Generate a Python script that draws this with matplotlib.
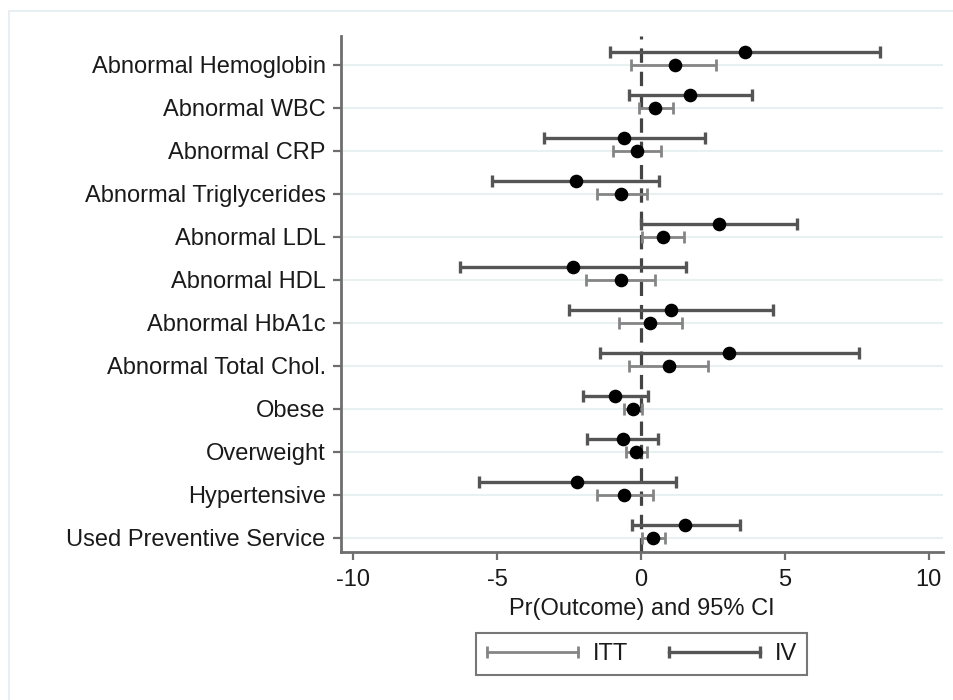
import matplotlib
matplotlib.use('Agg')
from matplotlib import pyplot as plt
from matplotlib.patches import Rectangle
from matplotlib.lines import Line2D
from matplotlib.legend_handler import HandlerLine2D

plt.rcParams['font.family'] = ['Liberation Sans', 'DejaVu Sans']

outcomes = ['Abnormal Hemoglobin', 'Abnormal WBC', 'Abnormal CRP',
            'Abnormal Triglycerides', 'Abnormal LDL', 'Abnormal HDL',
            'Abnormal HbA1c', 'Abnormal Total Chol.', 'Obese', 'Overweight',
            'Hypertensive', 'Used Preventive Service']

# ITT estimates and 95% CI
itt_est = [1.18, 0.49, -0.13, -0.70, 0.77, -0.70, 0.31, 0.97, -0.27, -0.18, -0.59, 0.43]
itt_lo = [-0.36, -0.06, -0.99, -1.54, 0.05, -1.91, -0.75, -0.41, -0.59, -0.52, -1.54, 0.02]
itt_hi = [2.61, 1.10, 0.70, 0.20, 1.48, 0.49, 1.44, 2.32, 0.02, 0.20, 0.43, 0.83]

# IV estimates and 95% CI
iv_est = [3.62, 1.70, -0.58, -2.26, 2.72, -2.38, 1.03, 3.06, -0.89, -0.64, -2.21, 1.54]
iv_lo = [-1.08, -0.41, -3.37, -5.17, -0.01, -6.30, -2.49, -1.43, -2.03, -1.87, -5.62, -0.30]
iv_hi = [8.31, 3.85, 2.23, 0.64, 5.41, 1.55, 4.58, 7.59, 0.25, 0.60, 1.22, 3.44]

xticks = [-10, -5, 0, 5, 10]

ITT_COLOR = '#858585'
IV_COLOR = '#555555'

fig = plt.figure(figsize=(9.54, 7.0), dpi=100)
fig.patches.append(Rectangle((9 / 954, -0.01), 1.0, 1 - 11 / 700 + 0.01,
                             transform=fig.transFigure, fill=False,
                             edgecolor='#e3ecf0', linewidth=1.2))
ax = fig.add_axes([341 / 954, 1 - 552 / 700, (943 - 341) / 954, (552 - 36) / 700])

y_itt = list(range(len(outcomes)))
y_iv = [y - 0.30 for y in y_itt]

for y in y_itt:
    ax.axhline(y, color='#e8f0f2', linewidth=1.5, zorder=0)
ax.axvline(0, color='#444444', linewidth=2.3, linestyle=(0, (4.5, 2.8)), zorder=1)

itt_err = [[e - l for e, l in zip(itt_est, itt_lo)], [h - e for e, h in zip(itt_est, itt_hi)]]
iv_err = [[e - l for e, l in zip(iv_est, iv_lo)], [h - e for e, h in zip(iv_est, iv_hi)]]

ax.errorbar(itt_est, y_itt, xerr=itt_err, fmt='none', ecolor=ITT_COLOR,
            elinewidth=2.0, capsize=4.3, capthick=2.0, zorder=2)
ax.errorbar(iv_est, y_iv, xerr=iv_err, fmt='none', ecolor=IV_COLOR,
            elinewidth=2.4, capsize=4.5, capthick=2.4, zorder=2)
ax.plot(itt_est, y_itt, 'o', color='black', markersize=8.8, zorder=3)
ax.plot(iv_est, y_iv, 'o', color='black', markersize=8.8, zorder=3)

ax.set_xlim(-10.43, 10.5)
ax.set_ylim(11.33, -0.674)
ax.set_yticks(y_itt)
ax.set_yticklabels(outcomes)
ax.set_xticks(xticks)
ax.set_xticklabels([str(t) for t in xticks])
ax.tick_params(axis='both', labelsize=17, colors='#6e6e6e', labelcolor='#1a1a1a',
               length=6, width=1.6, pad=6)
ax.tick_params(axis='y', pad=5)
for side in ['top', 'right']:
    ax.spines[side].set_visible(False)
for side in ['left', 'bottom']:
    ax.spines[side].set_color('#6e6e6e')
    ax.spines[side].set_linewidth(2.0)
ax.set_xlabel('Pr(Outcome) and 95% CI', fontsize=17, color='#1a1a1a', labelpad=5)

# legend handles: a line with caps at both ends
h_itt = Line2D([], [], color=ITT_COLOR, linewidth=2.0, marker='|',
               markersize=8.5, markeredgewidth=2.0)
h_iv = Line2D([], [], color=IV_COLOR, linewidth=2.4, marker='|',
              markersize=8.5, markeredgewidth=2.4)
leg = fig.legend(handles=[h_itt, h_iv], labels=['ITT', 'IV'], loc='center',
                 bbox_to_anchor=(641.5 / 954, 1 - 654 / 700), ncol=2, fontsize=17,
                 frameon=True, fancybox=False, edgecolor='#555555',
                 handlelength=3.96, columnspacing=1.69, handletextpad=0.58,
                 borderpad=0.42,
                 handler_map={Line2D: HandlerLine2D(marker_pad=0.05, numpoints=2)})
leg.get_frame().set_linewidth(1.5)
for t in leg.get_texts():
    t.set_color('#1a1a1a')

plt.savefig('out.png', dpi=100)
plt.close()
